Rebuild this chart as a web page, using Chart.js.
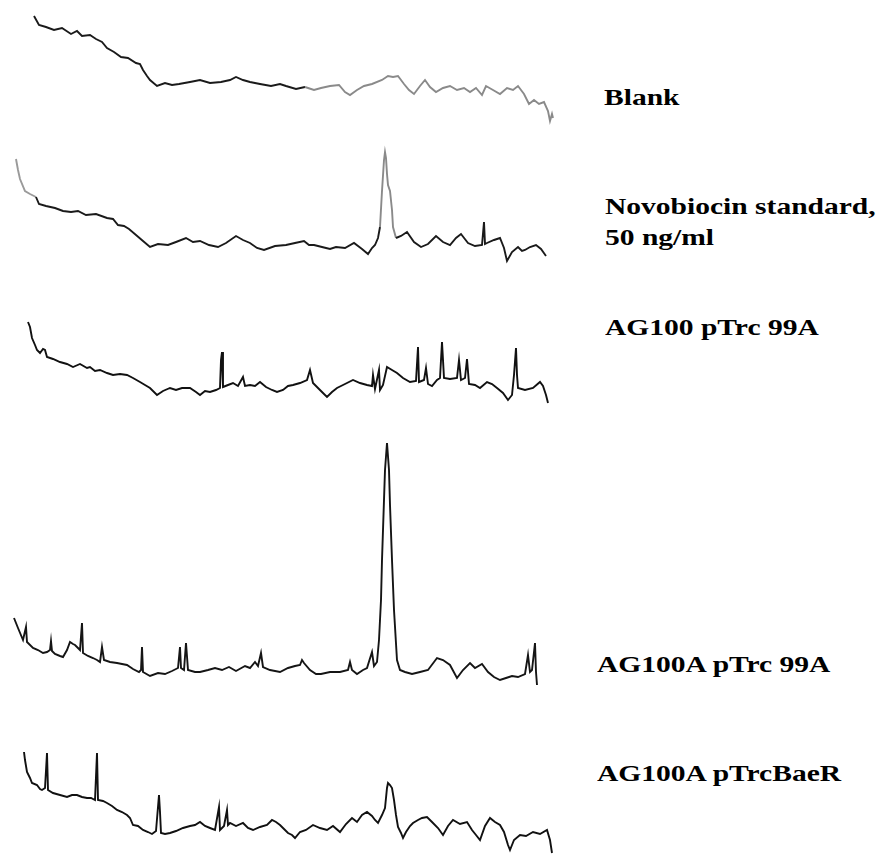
<!DOCTYPE html>
<html lang="en">
<head>
    <meta charset="UTF-8">
    <script src="https://cdn.jsdelivr.net/npm/chart.js@4.4.1/dist/chart.umd.min.js"></script>
    <title>Chromatograms</title>
    <style>
        body { margin: 0; background: #fff; }
        #wrap { position: relative; width: 879px; height: 859px; overflow: hidden; }
        #wrap canvas { position: absolute; left: 0; }
        .lbl {
            position: absolute;
            font-family: 'Liberation Serif', 'Times New Roman', serif;
            font-weight: bold;
            font-size: 24px;
            line-height: 31px;
            color: #000;
            white-space: nowrap;
            transform: scaleX(1.23);
            transform-origin: left center;
        }
    </style>
</head>
<body>
<div id="wrap">
    <canvas id="c1" width="560" height="130" style="top:0px"></canvas>
    <canvas id="c2" width="560" height="140" style="top:130px"></canvas>
    <canvas id="c3" width="560" height="120" style="top:300px"></canvas>
    <canvas id="c4" width="560" height="265" style="top:430px"></canvas>
    <canvas id="c5" width="560" height="119" style="top:740px"></canvas>

    <div class="lbl" style="left:604px;top:82px">Blank</div>
    <div class="lbl" style="left:605px;top:191px">Novobiocin standard,<br>50 ng/ml</div>
    <div class="lbl" style="left:605px;top:312px">AG100 pTrc 99A</div>
    <div class="lbl" style="left:597px;top:649px">AG100A pTrc 99A</div>
    <div class="lbl" style="left:597px;top:758px">AG100A pTrcBaeR</div>
</div>

<script>
// sample labels
var labels = ['Blank', 'Novobiocin standard, 50 ng/ml', 'AG100 pTrc 99A', 'AG100A pTrc 99A', 'AG100A pTrcBaeR'];

// retention (scan) positions and detector signal
var blankT = [34,39,46,54,62,71,77,82,90,96,102,107,114,121,128,136,140,143,147,150,157,165,172,179,190,200,210,221,230,236,243,250,260,271,280,286,296,305,314,321,330,339,345,350,357,364,372,382,388,393,398,404,409,414,420,425,430,436,443,450,457,464,470,476,482,486,493,500,507,513,518,524,529,534,539,544,548,550,552,553];
var blankY = [114,105,103,100,102,96,99,94,95,91,88,82,78,73,72,67,66,60,54,50,44,47,45,46,48,50,47,48,50,53,50,48,46,44,46,44,41,43,40,42,44,45,38,35,40,44,46,50,54,53,54,46,40,36,44,50,43,38,42,44,40,42,38,42,35,44,40,36,42,40,44,36,26,30,26,28,19,9,16,12];

var novoT = [16,18,20,25,30,36,39,46,55,63,71,78,86,96,107,113,118,124,129,136,143,150,158,168,176,186,193,200,209,218,226,236,243,250,257,264,275,286,295,304,309,314,322,330,336,345,354,362,368,372,375,378,380,382,384,385,386,387,388,390,392,393,396,401,407,414,421,428,436,443,450,456,461,468,475,482,484,485,487,494,500,504,507,512,518,522,525,530,536,541,546];
var novoY = [111,100,91,79,76,73,66,64,62,59,58,59,55,56,52,51,45,44,41,35,29,23,26,25,28,32,28,29,25,23,27,34,30,27,22,20,24,25,27,29,25,25,23,21,23,22,27,21,16,22,25,32,43,79,110,118,112,96,85,79,60,43,32,34,38,28,23,26,34,28,25,32,36,27,24,25,48,26,27,30,32,22,9,18,23,19,20,23,25,21,14];

var ag100T = [28,30,32,35,37,40,43,45,47,53,60,67,73,80,87,90,95,100,107,113,120,127,133,140,145,150,157,163,170,176,182,190,196,200,205,210,216,220,221,222,223,228,233,238,243,245,250,255,260,266,272,277,283,288,293,300,307,310,313,318,323,327,332,337,345,353,360,367,372,373,375,379,380,383,387,392,397,403,410,416,418,419,424,426,428,432,437,440,442,444,450,457,459,461,465,467,469,475,480,487,492,497,503,508,512,514,516,517,518,525,533,540,543,546,548];
var ag100Y = [98,93,82,75,70,67,71,70,63,61,58,56,53,56,52,53,49,50,47,45,46,45,42,38,35,32,25,29,32,30,32,32,28,25,29,28,30,32,60,68,33,35,37,34,43,34,35,34,38,33,30,28,30,34,35,37,40,50,37,32,27,23,28,32,36,40,37,35,34,45,31,50,30,35,53,50,47,42,38,39,73,38,40,52,36,34,40,42,78,42,41,42,60,40,42,61,36,35,32,38,36,32,27,20,25,45,72,45,32,30,32,38,34,25,17];

var ag100aT = [14,18,23,26,27,33,38,43,47,50,51,52,55,60,63,67,70,73,75,78,80,82,83,88,93,97,100,102,104,110,117,122,127,133,139,141,142,143,150,158,165,172,178,180,181,184,186,188,195,200,208,215,222,229,236,245,250,255,258,261,263,270,280,288,295,300,302,304,310,316,321,330,340,348,350,352,357,363,367,372,374,377,379,381,382,384,385,387,389,390,392,394,397,400,405,412,420,428,437,443,450,457,463,470,475,482,488,494,500,506,512,518,525,528,530,532,535,536,537];
var ag100aY = [77,67,55,68,53,47,45,42,43,45,54,44,41,39,38,45,53,51,50,47,45,72,42,39,37,35,33,48,35,33,32,31,30,26,23,25,48,23,19,22,21,24,27,48,27,25,52,25,23,23,25,27,25,28,24,29,27,33,29,42,28,25,23,27,29,30,35,32,25,21,21,23,23,25,33,25,21,25,27,43,29,33,55,95,135,195,225,252,225,190,135,85,35,25,23,21,23,25,37,35,30,17,25,32,27,31,23,18,15,17,19,18,21,40,23,25,52,23,10];

var baerT = [24,25,27,30,32,37,40,42,45,47,48,53,60,67,72,77,82,87,91,95,97,98,103,107,112,117,122,127,130,133,138,143,148,152,156,159,160,161,165,170,176,183,190,195,200,205,210,215,219,220,224,227,228,230,236,243,248,253,260,267,272,276,280,284,288,292,295,300,306,313,320,327,333,340,346,352,357,362,367,372,375,378,382,385,387,388,390,392,394,396,398,401,403,406,410,413,418,422,427,432,438,443,448,453,460,467,472,476,480,485,490,495,500,504,508,510,514,520,526,533,540,547,550,552];
var baerY = [107,99,87,81,76,74,70,69,71,106,69,66,64,62,64,64,62,61,61,59,106,59,58,56,53,49,47,44,41,34,33,29,27,25,28,64,47,26,25,26,28,31,33,34,37,33,31,29,52,29,33,49,34,36,33,36,31,29,32,34,39,37,34,30,26,24,21,27,29,34,31,29,33,27,35,41,37,44,47,43,39,36,44,51,71,76,74,71,59,44,32,26,21,27,33,36,39,41,42,37,31,24,33,39,35,37,29,24,19,33,41,37,34,27,14,9,19,24,23,27,25,29,19,6];

function pts(xs, ys) {
    var out = [];
    for (var i = 0; i < xs.length; i++) out.push({ x: xs[i], y: ys[i] });
    return out;
}

// shade: function of retention position -> stroke colour (the scan is fainter in places)
function makeTrace(id, xs, ys, yMax, shade) {
    var ctx = document.getElementById(id).getContext('2d');
    return new Chart(ctx, {
        type: 'line',
        data: {
            datasets: [{
                data: pts(xs, ys),
                borderColor: '#151515',
                borderWidth: 1.9,
                pointRadius: 0,
                tension: 0,
                clip: false,
                segment: {
                    borderColor: function (c) { return shade(c.p0.parsed.x); }
                }
            }]
        },
        options: {
            responsive: false,
            maintainAspectRatio: false,
            animation: false,
            layout: { padding: 0 },
            plugins: { legend: { display: false }, tooltip: { enabled: false } },
            scales: {
                x: { type: 'linear', min: 0, max: 560, display: false },
                y: { min: 0, max: yMax, display: false }
            }
        }
    });
}

makeTrace('c1', blankT, blankY, 130, function (x) { return x < 300 ? '#1a1a1a' : '#8a8a8a'; });
makeTrace('c2', novoT, novoY, 140, function (x) {
    if (x < 36) return '#9a9a9a';
    if (x >= 380 && x < 394) return '#8a8a8a';
    return '#1a1a1a';
});
makeTrace('c3', ag100T, ag100Y, 120, function () { return '#111'; });
makeTrace('c4', ag100aT, ag100aY, 265, function () { return '#151515'; });
makeTrace('c5', baerT, baerY, 119, function () { return '#111'; });
</script>
</body>
</html>
